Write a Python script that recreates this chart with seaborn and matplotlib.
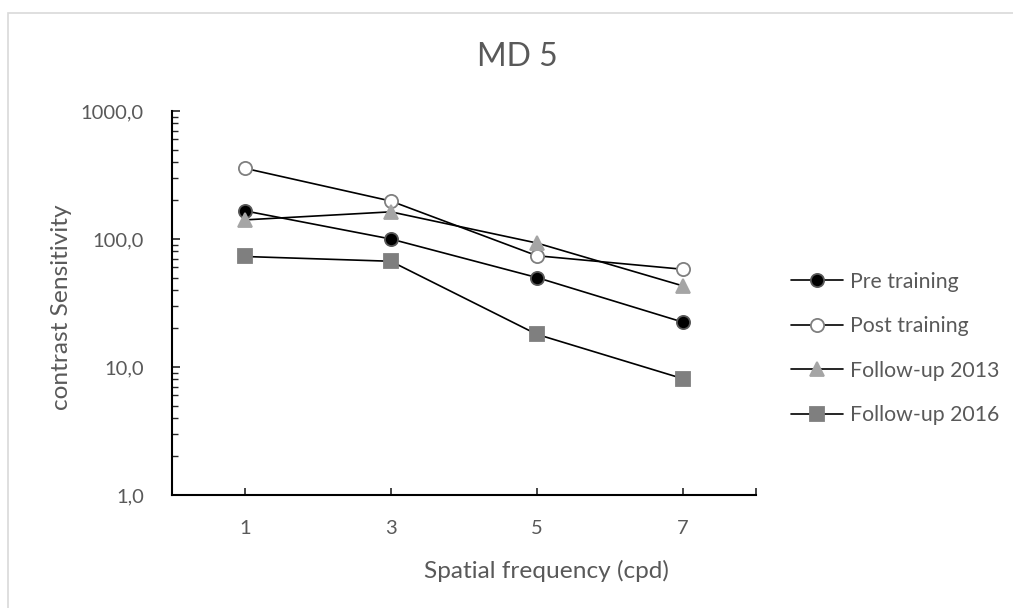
import matplotlib
matplotlib.use('Agg')
import matplotlib.pyplot as plt
import matplotlib.ticker as mticker
from matplotlib.patches import Rectangle
import pandas as pd
import seaborn as sns

# data
freqs = ['1', '3', '5', '7']
pre_training = [166, 100, 50, 22.4]
post_training = [357, 198, 74, 58]
follow_up_2013 = [141, 163, 93, 43]
follow_up_2016 = [73, 67, 18, 8.1]

series = [
    ('Pre training', pre_training, 'o', 'black', '#595959', 9.5),
    ('Post training', post_training, 'o', 'white', '#7f7f7f', 9.5),
    ('Follow-up 2013', follow_up_2013, '^', '#a5a5a5', '#a5a5a5', 10),
    ('Follow-up 2016', follow_up_2016, 's', '#7f7f7f', '#7f7f7f', 10),
]

sns.set_style('white')
plt.rcParams['font.family'] = ['Lato', 'DejaVu Sans']

text_color = '#595959'

fig = plt.figure(figsize=(10.13, 6.08), dpi=100)
ax = fig.add_axes([171.7 / 1013, 1 - 495 / 608, 584.3 / 1013, 384 / 608])

for name, vals, mk, fc, ec, ms in series:
    df = pd.DataFrame({'freq': freqs, 'cs': vals})
    sns.lineplot(data=df, x='freq', y='cs', ax=ax, color='black', linewidth=1.2,
                 marker=mk, markersize=ms, markerfacecolor=fc, markeredgecolor=ec,
                 markeredgewidth=1.3, label=name, sort=False)

ax.set_yscale('log')
ax.set_ylim(1, 1000)
ax.set_xlim(-0.5, 3.5)

ax.yaxis.set_major_locator(mticker.LogLocator(base=10, numticks=5))
ax.yaxis.set_minor_locator(mticker.LogLocator(base=10, subs=range(2, 10), numticks=20))
ax.yaxis.set_major_formatter(mticker.FuncFormatter(lambda v, p: f'{v:.1f}'.replace('.', ',')))
ax.yaxis.set_minor_formatter(mticker.NullFormatter())
ax.xaxis.set_minor_locator(mticker.FixedLocator([3.5]))

for s in ['top', 'right']:
    ax.spines[s].set_visible(False)
for s in ['left', 'bottom']:
    ax.spines[s].set_color('black')
    ax.spines[s].set_linewidth(1.5)

ax.tick_params(axis='y', which='major', direction='in', length=6, width=1.2,
               left=True, labelsize=14.5, labelcolor=text_color, pad=20)
ax.tick_params(axis='y', which='minor', direction='in', length=4, width=1.0, left=True)
ax.tick_params(axis='x', which='both', direction='in', length=5, width=1.2,
               bottom=True, labelsize=14.5, labelcolor=text_color, pad=18)

ax.set_xlabel('Spatial frequency (cpd)', fontsize=17.6, color=text_color, va='center')
ax.set_ylabel('contrast Sensitivity', fontsize=17.6, color=text_color, va='center')
ax.xaxis.set_label_coords(0.641, -0.198)
ax.yaxis.set_label_coords(-0.188, 0.49)

fig.text(517 / 1013, 1 - 57 / 608, 'MD 5', fontsize=23, color=text_color,
         ha='center', va='center')

ax.legend(loc='center left', bbox_to_anchor=(791 / 1013, 1 - 348.4 / 608),
          bbox_transform=fig.transFigure, frameon=False, fontsize=15.3,
          handlelength=2.45, handletextpad=0.33, labelspacing=1.15,
          borderpad=0, borderaxespad=0, labelcolor=text_color)

# light chart-area border
fig.patches.append(Rectangle((8.3 / 1013, -0.1), 1.2, 1 - 12.7 / 608 + 0.1,
                             transform=fig.transFigure, fill=False,
                             edgecolor='#d9d9d9', linewidth=1.2))

fig.savefig('out.png', dpi=100)
